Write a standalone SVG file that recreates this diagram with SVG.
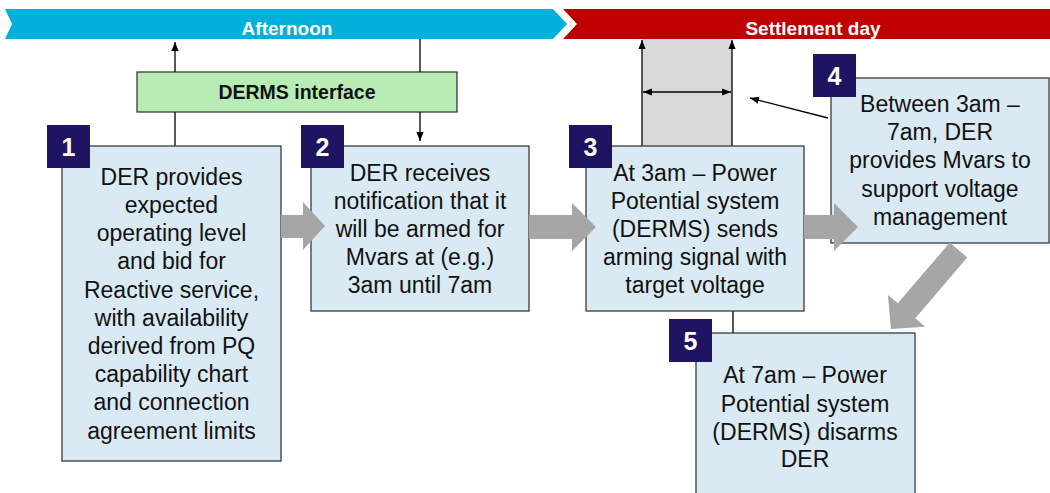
<svg xmlns="http://www.w3.org/2000/svg" width="1050" height="493" viewBox="0 0 1050 493">
<style>
.box{fill:#DAEAF4;stroke:#3a3a3a;stroke-width:1.3}
.badge{fill:#1F1462}
.num{font-family:"Liberation Sans",Arial,sans-serif;font-weight:bold;font-size:25px;fill:#fff;text-anchor:middle}
.t{font-family:"Liberation Sans",Arial,sans-serif;font-size:23px;fill:#111;text-anchor:middle}
.ban{font-family:"Liberation Sans",Arial,sans-serif;font-weight:bold;font-size:19px;fill:#fff;text-anchor:middle}
.ln{stroke:#000;stroke-width:1.3;fill:none}
.blk{fill:#A6A6A6}
</style>
<defs>
<marker id="ah" viewBox="0 0 10 10" refX="10" refY="5" markerWidth="9" markerHeight="9" orient="auto-start-reverse" markerUnits="userSpaceOnUse">
<path d="M0,1 L10,5 L0,9 Z" fill="#000"/>
</marker>
</defs>
<rect width="1050" height="493" fill="#fff"/>
<g id="banner-afternoon">
<polygon points="5,9 553,9 567,24 553,39 5,39 12,24" fill="#00B0DA"/>
<text class="ban" x="287" y="35">Afternoon</text>
</g>
<g id="banner-settlement">
<polygon points="563,9 1050,9 1050,39 563,39 577,24" fill="#C00000"/>
<text class="ban" x="813" y="35">Settlement day</text>
</g>
<g id="window">
<rect x="642" y="39" width="90" height="107" fill="#D9D9D9"/>
</g>
<g id="derms">
<rect x="137" y="72" width="320" height="40" fill="#B8ECB4" stroke="#3a3a3a" stroke-width="1.3"/>
<text x="297" y="99" font-family="'Liberation Sans',Arial,sans-serif" font-weight="bold" font-size="19.5" fill="#111" text-anchor="middle">DERMS interface</text>
</g>
<g id="connectors">
<line class="ln" x1="175" y1="146" x2="175" y2="112"/>
<line class="ln" x1="175" y1="72" x2="175" y2="42" marker-end="url(#ah)"/>
<line class="ln" x1="420" y1="39" x2="420" y2="72"/>
<line class="ln" x1="420" y1="112" x2="420" y2="141" marker-end="url(#ah)"/>
<line class="ln" x1="642" y1="146" x2="642" y2="40" marker-end="url(#ah)"/>
<line class="ln" x1="732" y1="146" x2="732" y2="40" marker-end="url(#ah)"/>
<line class="ln" x1="643" y1="92" x2="731" y2="92" marker-start="url(#ah)" marker-end="url(#ah)"/>
<line class="ln" x1="828" y1="118" x2="750" y2="98" marker-end="url(#ah)"/>
<line class="ln" x1="733" y1="311" x2="733" y2="333"/>
</g>
<g id="node1">
<rect class="box" x="62" y="146" width="219" height="315"/>
<text class="t" x="171.5" y="185">DER provides</text>
<text class="t" x="171.5" y="213">expected</text>
<text class="t" x="171.5" y="241">operating level</text>
<text class="t" x="171.5" y="269">and bid for</text>
<text class="t" x="171.5" y="298">Reactive service,</text>
<text class="t" x="171.5" y="326">with availability</text>
<text class="t" x="171.5" y="354">derived from PQ</text>
<text class="t" x="171.5" y="382">capability chart</text>
<text class="t" x="171.5" y="410">and connection</text>
<text class="t" x="171.5" y="439">agreement limits</text>
<rect class="badge" x="47" y="125" width="43" height="43"/>
<text class="num" x="68.5" y="156">1</text>
</g>
<g id="node2">
<rect class="box" x="311" y="146" width="218" height="165"/>
<text class="t" x="420" y="181">DER receives</text>
<text class="t" x="420" y="209">notification that it</text>
<text class="t" x="420" y="237">will be armed for</text>
<text class="t" x="420" y="265">Mvars at (e.g.)</text>
<text class="t" x="420" y="293">3am until 7am</text>
<rect class="badge" x="301" y="125" width="43" height="43"/>
<text class="num" x="322.5" y="156">2</text>
</g>
<g id="node3">
<rect class="box" x="586" y="146" width="218" height="165"/>
<text class="t" x="695" y="181">At 3am – Power</text>
<text class="t" x="695" y="209">Potential system</text>
<text class="t" x="695" y="237">(DERMS) sends</text>
<text class="t" x="695" y="265">arming signal with</text>
<text class="t" x="695" y="293">target voltage</text>
<rect class="badge" x="569" y="125" width="43" height="43"/>
<text class="num" x="590.5" y="156">3</text>
</g>
<g id="node4">
<rect class="box" x="831" y="78" width="218" height="165"/>
<text class="t" x="940" y="112">Between 3am –</text>
<text class="t" x="940" y="140">7am, DER</text>
<text class="t" x="940" y="168">provides Mvars to</text>
<text class="t" x="940" y="197">support voltage</text>
<text class="t" x="940" y="225">management</text>
<rect class="badge" x="813" y="54" width="43" height="43"/>
<text class="num" x="834.5" y="85">4</text>
</g>
<g id="node5">
<rect class="box" x="696" y="333" width="219" height="170"/>
<text class="t" x="805" y="383">At 7am – Power</text>
<text class="t" x="805" y="412">Potential system</text>
<text class="t" x="805" y="440">(DERMS) disarms</text>
<text class="t" x="805" y="467">DER</text>
<rect class="badge" x="669" y="319" width="43" height="43"/>
<text class="num" x="690.5" y="350">5</text>
</g>
<g id="flow-arrows">
<path class="blk" d="M281,215 H303 V202 L325,226 L303,250 V238 H281 Z"/>
<path class="blk" d="M529,215 H572 V203 L596,227 L572,251 V239 H529 Z"/>
<path class="blk" d="M804,215 H834 V203 L858,227 L834,251 V239 H804 Z"/>
<path class="blk" transform="translate(958.5,250) rotate(130.5)" d="M0,-11.5 H80 V-24.5 L104,0 L80,24.5 V11.5 H0 Z"/>
</g>
</svg>
